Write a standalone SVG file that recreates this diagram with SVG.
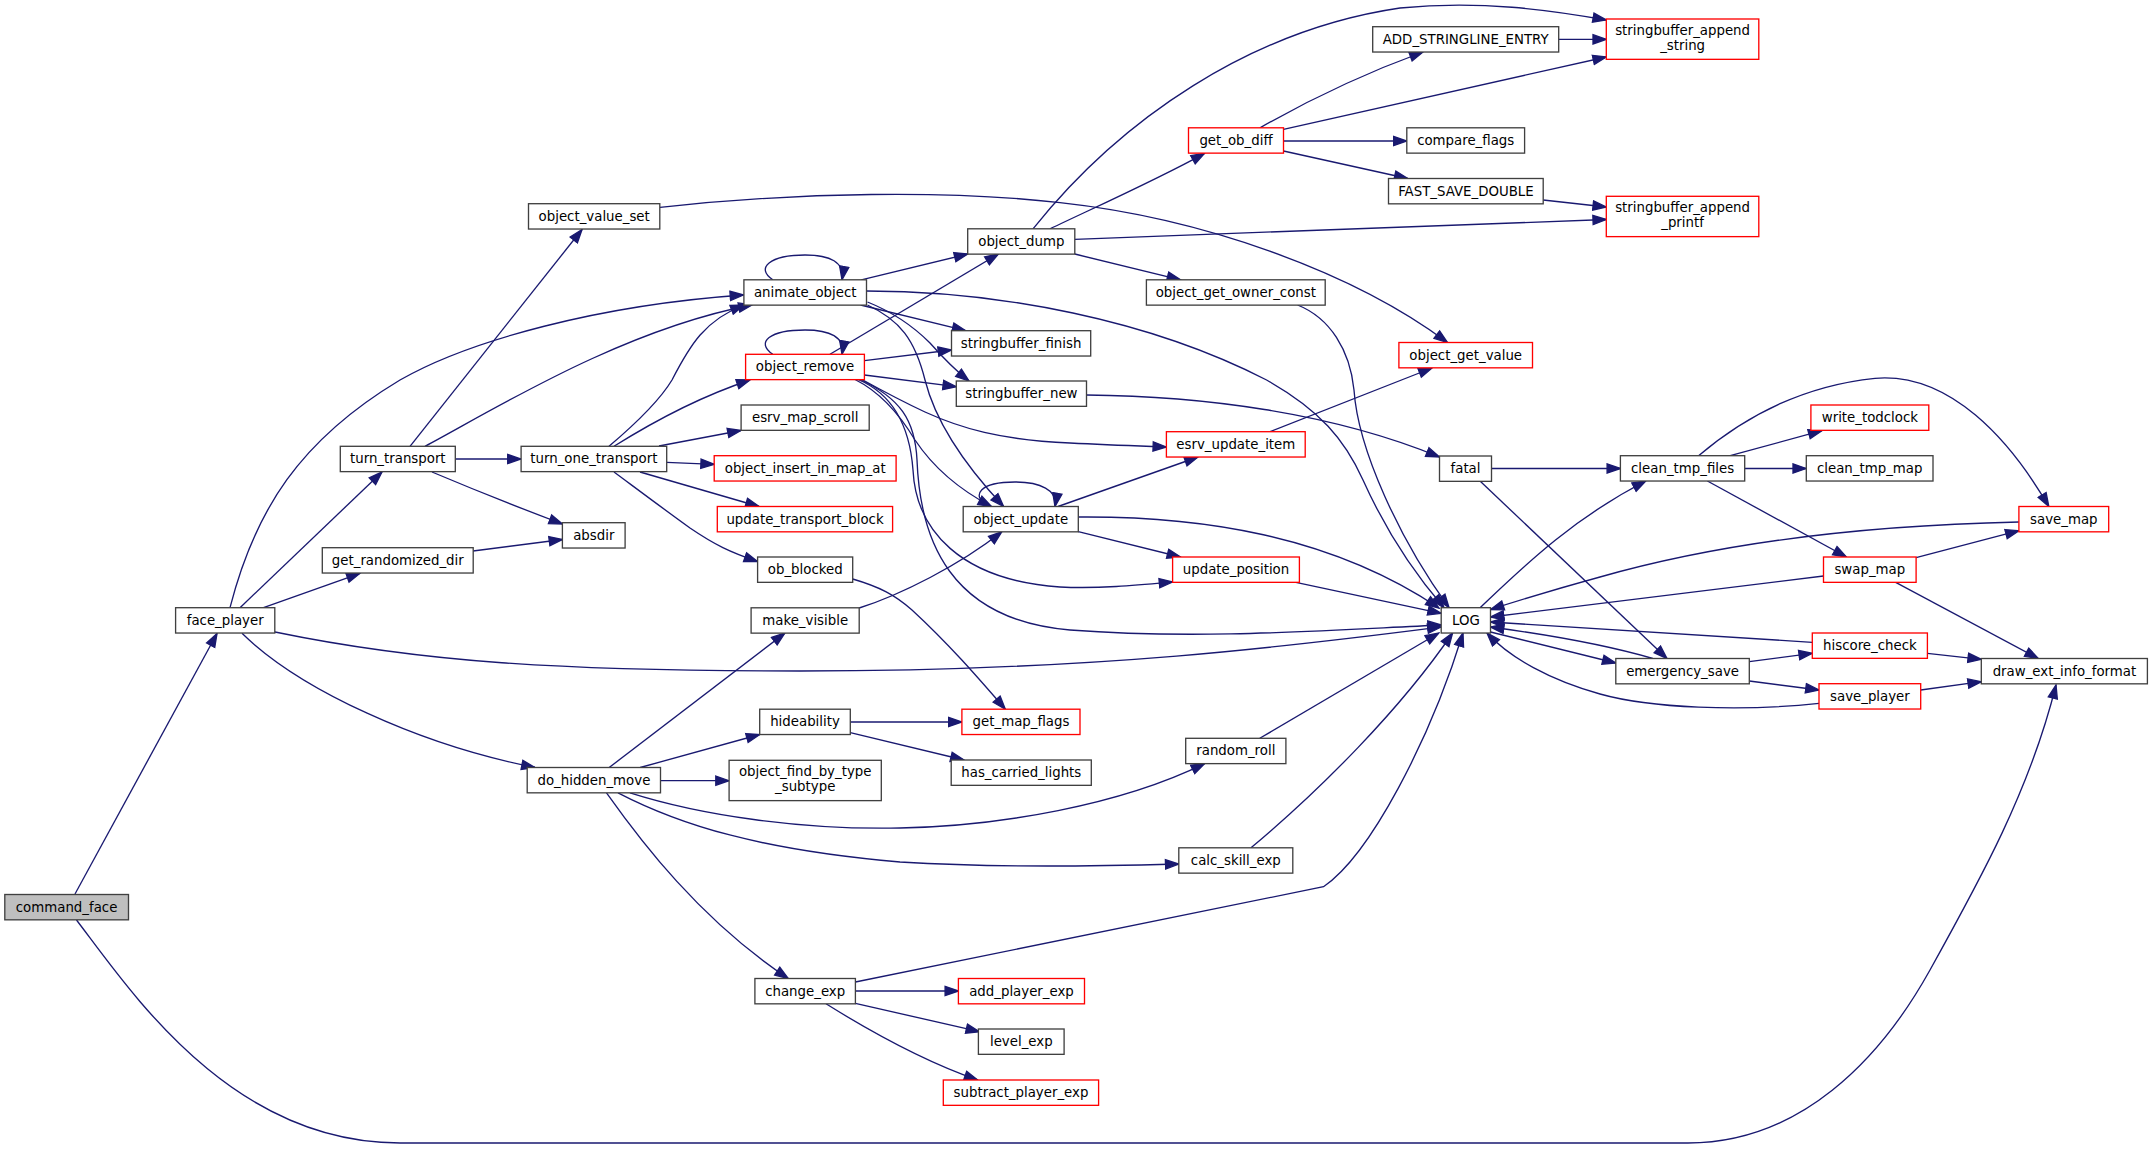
<svg xmlns="http://www.w3.org/2000/svg" width="2152" height="1149" viewBox="0 0 2152 1149">
<style>
.b{fill:#ffffff;stroke:#404040;stroke-width:1.33}
.r{fill:#ffffff;stroke:#ff0000;stroke-width:1.33}
.g{fill:#bfbfbf;stroke:#404040;stroke-width:1.33}
text{font-family:"DejaVu Sans","Liberation Sans",sans-serif;font-size:13.33px;fill:#000000;text-anchor:middle}
.e{fill:none;stroke:#191970;stroke-width:1.33;marker-end:url(#arr)}
</style>
<defs>
<marker id="arr" viewBox="-1 -6 16 12" refX="13.3" refY="0" markerWidth="16" markerHeight="12" orient="auto" markerUnits="userSpaceOnUse">
<path d="M0,-4.67 L13.33,0 L0,4.67 Z" fill="#191970" stroke="#191970" stroke-width="1.33"/>
</marker>
</defs>
<rect x="0" y="0" width="2152" height="1149" fill="#ffffff"/>
<g id="edges">
<path class="e" d="M75,894 L217,633.5"/>
<path class="e" d="M76.5,920 C130,990 230,1143 400,1143 L1688,1143 C1800,1143 1880,1060 1930,970 C1980,880 2030,790 2056,685"/>
<path class="e" d="M240,607.7 L382,472"/>
<path class="e" d="M263.5,607.7 L360,573.3"/>
<path class="e" d="M230,607.7 C255,510 300,440 400,380 C470,340 600,305 743.5,295"/>
<path class="e" d="M275,632 C420,662 560,671 800,671 C1100,671 1300,645 1441,627"/>
<path class="e" d="M242,633.3 C300,690 420,745 535,767.5"/>
<path class="e" d="M410,446.3 L582,229.5"/>
<path class="e" d="M425,446.3 C490,412 620,330 752,305"/>
<path class="e" d="M609,446.3 C640,420 660,400 672,380 C690,345 705,320 744,305"/>
<path class="e" d="M614,446.3 C640,430 690,400 750,380"/>
<path class="e" d="M455.3,459 L521,459"/>
<path class="e" d="M432,472 C470,488 520,508 562.5,524"/>
<path class="e" d="M473,551 L562.5,539.5"/>
<path class="e" d="M659,446 L741,430.5"/>
<path class="e" d="M666.7,462.3 L714.2,464.3"/>
<path class="e" d="M640,472 L759,506.5"/>
<path class="e" d="M614,472 C645,495 665,510 690,528 C715,545 730,552 757.6,561.5"/>
<path class="e" d="M660,207.3 C800,192 950,190 1060,202.7 C1200,218 1350,270 1447.5,342.5"/>
<path class="e" d="M772.8,279.8 C755,268 770,255 805,255 C830,255 845,262 842,279.8"/>
<path class="e" d="M861.3,279.8 L967.7,254"/>
<path class="e" d="M866.5,291 C1000,291 1150,320 1266.6,380 C1320,410 1345,440 1363,480 C1390,540 1420,580 1444,607.7"/>
<path class="e" d="M860.6,305 L965.7,330.7"/>
<path class="e" d="M867.5,302 C895,313 915,328 930,343 C945,360 955,370 969,381"/>
<path class="e" d="M867.5,305 C900,320 915,340 925,380 C935,420 960,460 1003.6,506.5"/>
<path class="e" d="M772.8,354.3 C755,342 770,330 805,330 C830,330 845,337 842,354.3"/>
<path class="e" d="M830,354.3 L998.4,254"/>
<path class="e" d="M864.4,360.7 L951.5,350"/>
<path class="e" d="M864.4,375 L956.3,386.7"/>
<path class="e" d="M862,379.5 C890,395 910,405 925,412 C960,428 1000,440 1070,443 C1110,445 1140,446 1166.4,447"/>
<path class="e" d="M855,379.5 C880,392 900,415 915,440 C935,470 960,490 991.5,506.5"/>
<path class="e" d="M858,379.5 C895,395 910,430 913,470 C916,530 960,580 1060,587 C1100,589 1140,585 1172.6,582"/>
<path class="e" d="M860,379.5 C900,398 915,420 917,460 C920,540 950,620 1070,630 C1200,640 1330,630 1441.2,625"/>
<path class="e" d="M1033,228.8 C1120,120 1250,30 1400,8 C1480,0 1550,10 1606.3,20"/>
<path class="e" d="M1050,228.8 C1100,205 1160,178 1204.6,153.3"/>
<path class="e" d="M1074.8,239.3 L1606.3,219.5"/>
<path class="e" d="M1074.8,254 L1180.5,279.8"/>
<path class="e" d="M1260,127.8 C1300,105 1360,75 1423,52"/>
<path class="e" d="M1283.5,129.3 L1606.3,57"/>
<path class="e" d="M1283.5,141 L1406.8,141"/>
<path class="e" d="M1283.5,151 L1407.8,178.5"/>
<path class="e" d="M1558.7,39.3 L1606.3,39.3"/>
<path class="e" d="M1543.2,200 L1606.3,207"/>
<path class="e" d="M1297.6,305 C1330,318 1350,350 1354,390 C1358,450 1400,540 1449,607.7"/>
<path class="e" d="M1086.5,395 C1200,396 1330,412 1439.5,457"/>
<path class="e" d="M1270,431.7 L1432,368"/>
<path class="e" d="M988,506.5 C970,495 980,482 1015,482 C1040,482 1058,490 1055,506.5"/>
<path class="e" d="M1058,506.5 L1198,457"/>
<path class="e" d="M1078.3,531.7 L1180.5,557"/>
<path class="e" d="M1078.3,517 C1200,516 1330,535 1439,608"/>
<path class="e" d="M1295.9,582.3 L1441.2,613.3"/>
<path class="e" d="M859.2,608 C900,595 960,565 1001.8,531.8"/>
<path class="e" d="M852.7,579 C880,587 895,595 912,610 C950,645 980,680 1005.3,709.2"/>
<path class="e" d="M850.3,722 L961.9,722"/>
<path class="e" d="M850.3,732.7 L964,760"/>
<path class="e" d="M609.2,767.5 L784.9,633.1"/>
<path class="e" d="M640.2,767.5 L759.7,734.5"/>
<path class="e" d="M660.5,780.7 L729.1,780.7"/>
<path class="e" d="M630,792.8 C700,815 800,830 900,828 C1000,826 1120,805 1204.6,763.6"/>
<path class="e" d="M618,792.8 C680,825 760,850 900,862 C1000,868 1100,866 1178.8,864"/>
<path class="e" d="M606.5,792.8 C640,840 700,920 788.3,978.5"/>
<path class="e" d="M855.4,982 L1323.5,886.7 C1370,855 1430,740 1463,633"/>
<path class="e" d="M855.4,991 L958.4,991"/>
<path class="e" d="M855.4,1003.3 L979.4,1031.7"/>
<path class="e" d="M826,1003.8 C860,1025 920,1060 977.7,1080"/>
<path class="e" d="M1259.8,738.3 L1438.8,633"/>
<path class="e" d="M1251,847.8 C1320,790 1400,710 1452.6,633"/>
<path class="e" d="M1491.5,468.5 L1620.4,468.5"/>
<path class="e" d="M1480,481 L1667,658.5"/>
<path class="e" d="M1480,607.7 C1520,570 1570,520 1645.8,481"/>
<path class="e" d="M1490.5,632 L1615.8,663"/>
<path class="e" d="M1652.8,658.5 C1610,646 1550,635 1490.5,627"/>
<path class="e" d="M2018.9,522 C1880,525 1730,540 1600,577 C1560,588 1520,600 1490.5,609.5"/>
<path class="e" d="M1823.5,576 L1490.5,617"/>
<path class="e" d="M1812.3,642.3 L1490.5,622"/>
<path class="e" d="M1819,703.3 C1740,712 1650,708 1600,694 C1550,680 1510,658 1487,633"/>
<path class="e" d="M1730.2,455.7 L1821.8,430.7"/>
<path class="e" d="M1744.7,468.5 L1806.3,468.5"/>
<path class="e" d="M1698.6,455.7 C1750,412 1810,385 1875,378.3 C1950,372 2010,440 2048.8,506.5"/>
<path class="e" d="M1707.4,481 L1846.4,557"/>
<path class="e" d="M1749.3,661.7 L1812.3,653.3"/>
<path class="e" d="M1749.3,681 L1819,690"/>
<path class="e" d="M1916.1,557.7 L2018.9,530.7"/>
<path class="e" d="M1895.7,582.3 L2038.3,658.5"/>
<path class="e" d="M1927.4,653.3 L1981.3,659.3"/>
<path class="e" d="M1920.7,690 L1981.3,681.7"/>
</g>
<g id="node_command_face"><rect class="g" x="4.8" y="894.5" width="123.7" height="25.33"/><text x="66.6" y="911.5">command_face</text></g>
<g id="node_face_player"><rect class="b" x="175.6" y="607.7" width="99.2" height="25.33"/><text x="225.2" y="624.7">face_player</text></g>
<g id="node_turn_transport"><rect class="b" x="340.3" y="446.3" width="115" height="25.33"/><text x="397.8" y="463.3">turn_transport</text></g>
<g id="node_get_randomized_dir"><rect class="b" x="322.3" y="547.7" width="150.9" height="25.33"/><text x="397.8" y="564.7">get_randomized_dir</text></g>
<g id="node_object_value_set"><rect class="b" x="528.5" y="203.7" width="131.3" height="25.33"/><text x="594.2" y="220.7">object_value_set</text></g>
<g id="node_turn_one_transport"><rect class="b" x="521.1" y="446.3" width="145.6" height="25.33"/><text x="593.9" y="463.3">turn_one_transport</text></g>
<g id="node_absdir"><rect class="b" x="562.4" y="522.7" width="62.7" height="25.33"/><text x="593.8" y="539.7">absdir</text></g>
<g id="node_do_hidden_move"><rect class="b" x="527.2" y="767.5" width="133.3" height="25.33"/><text x="593.9" y="784.5">do_hidden_move</text></g>
<g id="node_animate_object"><rect class="b" x="743.9" y="279.8" width="122.6" height="25.33"/><text x="805.2" y="296.8">animate_object</text></g>
<g id="node_object_remove"><rect class="r" x="745.6" y="354.3" width="118.8" height="25.33"/><text x="805" y="371.3">object_remove</text></g>
<g id="node_esrv_map_scroll"><rect class="b" x="741.1" y="405" width="128.1" height="25.33"/><text x="805.2" y="422">esrv_map_scroll</text></g>
<g id="node_object_insert_in_map_at"><rect class="r" x="714.2" y="455.7" width="181.9" height="25.33"/><text x="805.2" y="472.7">object_insert_in_map_at</text></g>
<g id="node_update_transport_block"><rect class="r" x="717.3" y="506.5" width="175.3" height="25.33"/><text x="805" y="523.5">update_transport_block</text></g>
<g id="node_ob_blocked"><rect class="b" x="757.6" y="557" width="95.1" height="25.33"/><text x="805.2" y="574">ob_blocked</text></g>
<g id="node_make_visible"><rect class="b" x="751.1" y="607.8" width="108.1" height="25.33"/><text x="805.2" y="624.8">make_visible</text></g>
<g id="node_hideability"><rect class="b" x="759.7" y="709.2" width="90.6" height="25.33"/><text x="805" y="726.2">hideability</text></g>
<g id="node_object_find_by_type_subtype"><rect class="b" x="729.1" y="760.3" width="152.2" height="40.33"/><text x="805.2" y="776.3">object_find_by_type</text><text x="805.2" y="791">_subtype</text></g>
<g id="node_change_exp"><rect class="b" x="754.9" y="978.5" width="100.5" height="25.33"/><text x="805.2" y="995.5">change_exp</text></g>
<g id="node_object_dump"><rect class="b" x="967.7" y="228.8" width="107.1" height="25.33"/><text x="1021.3" y="245.8">object_dump</text></g>
<g id="node_stringbuffer_finish"><rect class="b" x="951.5" y="330.7" width="139.2" height="25.33"/><text x="1021.1" y="347.7">stringbuffer_finish</text></g>
<g id="node_stringbuffer_new"><rect class="b" x="956.3" y="381" width="130.2" height="25.33"/><text x="1021.4" y="398">stringbuffer_new</text></g>
<g id="node_object_update"><rect class="b" x="963.2" y="506.5" width="115.1" height="25.33"/><text x="1020.8" y="523.5">object_update</text></g>
<g id="node_get_map_flags"><rect class="r" x="961.9" y="709.2" width="118.1" height="25.33"/><text x="1021" y="726.2">get_map_flags</text></g>
<g id="node_has_carried_lights"><rect class="b" x="951.2" y="760" width="140.1" height="25.33"/><text x="1021.3" y="777">has_carried_lights</text></g>
<g id="node_add_player_exp"><rect class="r" x="958.4" y="978.5" width="126.1" height="25.33"/><text x="1021.5" y="995.5">add_player_exp</text></g>
<g id="node_level_exp"><rect class="b" x="978.4" y="1029" width="85.7" height="25.33"/><text x="1021.3" y="1046">level_exp</text></g>
<g id="node_subtract_player_exp"><rect class="r" x="943.3" y="1080" width="155.3" height="25.33"/><text x="1021" y="1097">subtract_player_exp</text></g>
<g id="node_get_ob_diff"><rect class="r" x="1188.5" y="127.8" width="95" height="25.33"/><text x="1236" y="144.8">get_ob_diff</text></g>
<g id="node_object_get_owner_const"><rect class="b" x="1146.4" y="279.8" width="178.8" height="25.33"/><text x="1235.8" y="296.8">object_get_owner_const</text></g>
<g id="node_esrv_update_item"><rect class="r" x="1166.4" y="431.7" width="138.8" height="25.33"/><text x="1235.8" y="448.7">esrv_update_item</text></g>
<g id="node_update_position"><rect class="r" x="1172.6" y="557" width="126.8" height="25.33"/><text x="1236" y="574">update_position</text></g>
<g id="node_random_roll"><rect class="b" x="1185.7" y="738.3" width="100.2" height="25.33"/><text x="1235.8" y="755.3">random_roll</text></g>
<g id="node_calc_skill_exp"><rect class="b" x="1178.8" y="847.8" width="114" height="25.33"/><text x="1235.8" y="864.8">calc_skill_exp</text></g>
<g id="node_ADD_STRINGLINE_ENTRY"><rect class="b" x="1372.7" y="26.7" width="186" height="25.33"/><text x="1465.7" y="43.7">ADD_STRINGLINE_ENTRY</text></g>
<g id="node_compare_flags"><rect class="b" x="1406.8" y="127.8" width="117.8" height="25.33"/><text x="1465.7" y="144.8">compare_flags</text></g>
<g id="node_FAST_SAVE_DOUBLE"><rect class="b" x="1388.5" y="178.5" width="154.7" height="25.33"/><text x="1465.9" y="195.5">FAST_SAVE_DOUBLE</text></g>
<g id="node_object_get_value"><rect class="r" x="1398.9" y="342.5" width="133.6" height="25.33"/><text x="1465.7" y="359.5">object_get_value</text></g>
<g id="node_fatal"><rect class="b" x="1439.5" y="456" width="52" height="25.33"/><text x="1465.5" y="473">fatal</text></g>
<g id="node_LOG"><rect class="b" x="1441.2" y="607.7" width="49.3" height="25.33"/><text x="1465.9" y="624.7">LOG</text></g>
<g id="node_stringbuffer_append_string"><rect class="r" x="1606.3" y="19" width="152.5" height="40.33"/><text x="1682.6" y="35">stringbuffer_append</text><text x="1682.6" y="50">_string</text></g>
<g id="node_stringbuffer_append_printf"><rect class="r" x="1606.3" y="196.3" width="152.5" height="40.33"/><text x="1682.6" y="212.3">stringbuffer_append</text><text x="1682.6" y="227.3">_printf</text></g>
<g id="node_clean_tmp_files"><rect class="b" x="1620.4" y="455.7" width="124.3" height="25.33"/><text x="1682.6" y="472.7">clean_tmp_files</text></g>
<g id="node_emergency_save"><rect class="b" x="1615.8" y="658.5" width="133.5" height="25.33"/><text x="1682.6" y="675.5">emergency_save</text></g>
<g id="node_write_todclock"><rect class="r" x="1810.9" y="405" width="117.9" height="25.33"/><text x="1869.9" y="422">write_todclock</text></g>
<g id="node_clean_tmp_map"><rect class="b" x="1806.3" y="455.7" width="126.7" height="25.33"/><text x="1869.7" y="472.7">clean_tmp_map</text></g>
<g id="node_swap_map"><rect class="r" x="1823.5" y="557" width="92.6" height="25.33"/><text x="1869.8" y="574">swap_map</text></g>
<g id="node_hiscore_check"><rect class="r" x="1812.3" y="633" width="115.1" height="25.33"/><text x="1869.9" y="650">hiscore_check</text></g>
<g id="node_save_player"><rect class="r" x="1819" y="683.7" width="101.7" height="25.33"/><text x="1869.9" y="700.7">save_player</text></g>
<g id="node_save_map"><rect class="r" x="2018.9" y="506.5" width="89.8" height="25.33"/><text x="2063.8" y="523.5">save_map</text></g>
<g id="node_draw_ext_info_format"><rect class="b" x="1981.3" y="658.5" width="166.1" height="25.33"/><text x="2064.4" y="675.5">draw_ext_info_format</text></g>
</svg>
